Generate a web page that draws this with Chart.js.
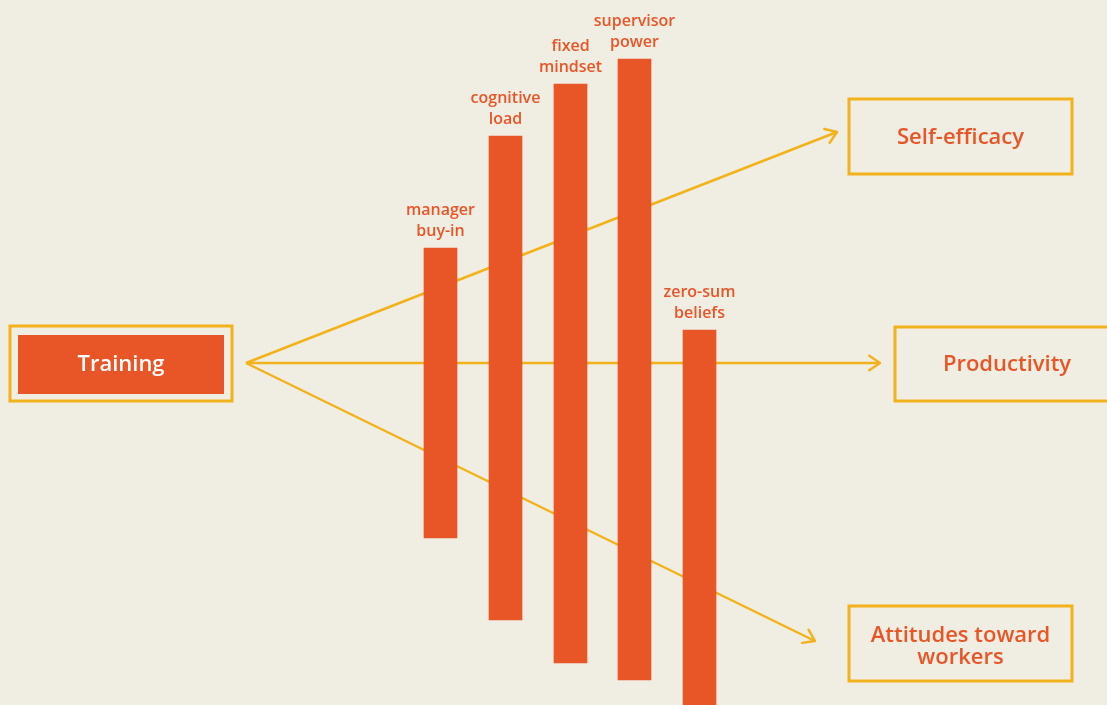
<!DOCTYPE html>
<html>
<head>
<meta charset="utf-8">
<script src="https://cdn.jsdelivr.net/npm/chart.js@4.4.1/dist/chart.umd.min.js"></script>
<style>
  html, body { margin: 0; padding: 0; background: #f0ede3; }
  #wrap { position: relative; width: 1107px; height: 705px; }
</style>
</head>
<body>
<div id="wrap"><canvas id="diagram"></canvas></div>
<script>
// barriers (vertical bars) in pixel units
var factorLabels = [['manager', 'buy-in'], ['cognitive', 'load'], ['fixed', 'mindset'], ['supervisor', 'power'], ['zero-sum', 'beliefs']];
var factorX = [440.5, 505.5, 570.5, 634.5, 699.5];
var factorTop = [248, 136, 84, 59, 330];
var factorBottom = [538, 620, 663, 680, 720];

// arrows from training to outcomes
var arrowStart = [246, 363];
var arrowEndX = [837, 880, 815];
var arrowEndY = [132, 363, 641];

// outcome boxes
var outcomeLabels = [['Self-efficacy'], ['Productivity'], ['Attitudes toward', 'workers']];
var outcomeLeft = [849, 895, 849];
var outcomeRight = [1072, 1119, 1072];
var outcomeTop = [99, 327, 606];
var outcomeBottom = [174, 401, 681];

// source box
var sourceLabel = 'Training';
var sourceOuter = [10, 232, 326, 401];
var sourceInner = [18, 224, 335, 394];

var ORANGE = '#e85628';
var YELLOW = '#f2b21b';
var BG = '#f0ede3';
var FONT = '"Open Sans", sans-serif';

var barData = factorX.map(function (x, i) {
  return { x: x, y: [factorTop[i], factorBottom[i]] };
});

var lineSets = arrowEndX.map(function (x, i) {
  return {
    type: 'line',
    data: [{ x: arrowStart[0], y: arrowStart[1] }, { x: x, y: arrowEndY[i] }],
    borderColor: YELLOW,
    borderWidth: 2.5,
    pointRadius: 0,
    fill: false,
    order: 2
  };
});

var diagramPlugin = {
  id: 'diagram',
  beforeDraw: function (chart) {
    var ctx = chart.ctx;
    ctx.save();
    ctx.fillStyle = BG;
    ctx.fillRect(0, 0, chart.width, chart.height);
    ctx.restore();
  },
  beforeDatasetsDraw: function (chart) {
    var ctx = chart.ctx, xs = chart.scales.x, ys = chart.scales.y;
    ctx.save();
    ctx.lineWidth = 3;
    ctx.strokeStyle = YELLOW;
    // source box
    var l = xs.getPixelForValue(sourceOuter[0]), r = xs.getPixelForValue(sourceOuter[1]);
    var t = ys.getPixelForValue(sourceOuter[2]), b = ys.getPixelForValue(sourceOuter[3]);
    ctx.strokeRect(l, t, r - l, b - t);
    l = xs.getPixelForValue(sourceInner[0]); r = xs.getPixelForValue(sourceInner[1]);
    t = ys.getPixelForValue(sourceInner[2]); b = ys.getPixelForValue(sourceInner[3]);
    ctx.fillStyle = ORANGE;
    ctx.fillRect(l, t, r - l, b - t);
    ctx.fillStyle = '#ffffff';
    ctx.font = '600 22px ' + FONT;
    ctx.textAlign = 'center';
    ctx.textBaseline = 'middle';
    ctx.fillText(sourceLabel, (l + r) / 2, (t + b) / 2);

    // outcome boxes
    ctx.font = '600 22px ' + FONT;
    ctx.fillStyle = ORANGE;
    for (var i = 0; i < outcomeLabels.length; i++) {
      l = xs.getPixelForValue(outcomeLeft[i]); r = xs.getPixelForValue(outcomeRight[i]);
      t = ys.getPixelForValue(outcomeTop[i]); b = ys.getPixelForValue(outcomeBottom[i]);
      ctx.strokeRect(l, t, r - l, b - t);
      var lines = outcomeLabels[i], lh = 22;
      var y0 = (t + b) / 2 + 1 - (lines.length - 1) * lh / 2 + (lines.length - 1) * 2;
      lines.forEach(function (s, k) {
        ctx.fillText(s, (l + r) / 2, y0 + k * lh);
      });
    }

    // arrow heads
    ctx.lineWidth = 2.5;
    ctx.lineCap = 'round';
    ctx.lineJoin = 'round';
    var sx = xs.getPixelForValue(arrowStart[0]), sy = ys.getPixelForValue(arrowStart[1]);
    for (var j = 0; j < arrowEndX.length; j++) {
      var ex = xs.getPixelForValue(arrowEndX[j]), ey = ys.getPixelForValue(arrowEndY[j]);
      var ang = Math.atan2(ey - sy, ex - sx), len = 13, spread = 0.6;
      ctx.beginPath();
      ctx.moveTo(ex - len * Math.cos(ang - spread), ey - len * Math.sin(ang - spread));
      ctx.lineTo(ex, ey);
      ctx.lineTo(ex - len * Math.cos(ang + spread), ey - len * Math.sin(ang + spread));
      ctx.stroke();
    }
    ctx.restore();
  },
  afterDatasetsDraw: function (chart) {
    var ctx = chart.ctx;
    var meta = chart.getDatasetMeta(0);
    ctx.save();
    ctx.fillStyle = ORANGE;
    ctx.font = '600 16px ' + FONT;
    ctx.textAlign = 'center';
    ctx.textBaseline = 'alphabetic';
    meta.data.forEach(function (bar, i) {
      var lines = factorLabels[i];
      var top = Math.min(bar.y, bar.base);
      for (var k = 0; k < lines.length; k++) {
        ctx.fillText(lines[k], bar.x, top - 12 - (lines.length - 1 - k) * 21);
      }
    });
    ctx.restore();
  }
};

new Chart(document.getElementById('diagram'), {
  type: 'bar',
  data: {
    datasets: [{
      data: barData,
      backgroundColor: ORANGE,
      borderWidth: 0,
      borderSkipped: false,
      barThickness: 33,
      order: 0
    }].concat(lineSets)
  },
  options: {
    responsive: true,
    maintainAspectRatio: false,
    animation: false,
    layout: { padding: 0 },
    plugins: { legend: { display: false }, tooltip: { enabled: false } },
    scales: {
      x: { type: 'linear', min: 0, max: 1107, offset: false, display: false },
      y: { type: 'linear', min: 0, max: 705, reverse: true, display: false }
    }
  },
  plugins: [diagramPlugin]
});
</script>
</body>
</html>
